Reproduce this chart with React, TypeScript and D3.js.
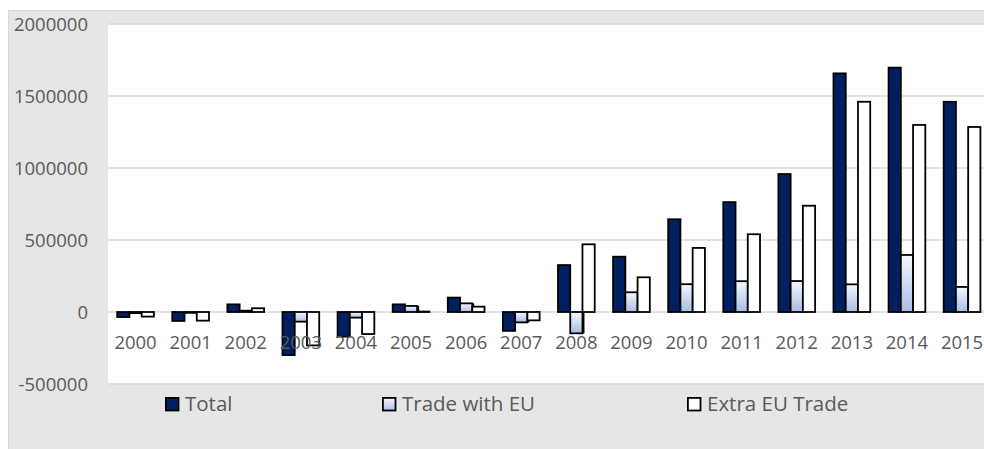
import React from "react";
import * as d3 from "d3";

const years = ["2000","2001","2002","2003","2004","2005","2006","2007","2008","2009","2010","2011","2012","2013","2014","2015"];
const totalValues = [-35000,-62000,53000,-299000,-171000,53000,100000,-131000,326000,384000,644000,763000,958000,1657000,1697000,1460000];
const euValues = [-8000,-6000,9000,-67000,-39000,42000,60000,-72000,-148000,137000,193000,214000,215000,192000,396000,174000];
const extraValues = [-32000,-60000,26000,-232000,-153000,3000,37000,-58000,470000,241000,445000,540000,738000,1460000,1299000,1285000];
const yTicks = [-500000,0,500000,1000000,1500000,2000000];
const seriesNames = ["Total","Trade with EU","Extra EU Trade"];

const W = 984, H = 449;
const plotLeft = 108, plotTop = 24, plotBottom = 384;
const band = 55.1;
const font = "'Open Sans', sans-serif";
const textColor = "#595959";

export default function App() {
  const x = d3.scaleBand<string>().domain(years).range([plotLeft, plotLeft + band * years.length]).padding(0);
  const y = d3.scaleLinear().domain([-500000, 2000000]).range([plotBottom, plotTop]);
  const bw = x.bandwidth() / 4.5;
  const inner = d3.scaleBand<number>().domain([0, 1, 2]).range([bw * 0.75, bw * 3.75]).padding(0);
  const series = [totalValues, euValues, extraValues];
  const fills = ["#022060", "url(#euGrad)", "#ffffff"];

  const legendX = [165, 382, 687];

  return (
    <svg width={W} height={H} style={{ position: "absolute", left: 0, top: 0 }}>
      <defs>
        <linearGradient id="euGrad" x1="0" y1="0" x2="0" y2="1">
          <stop offset="0" stopColor="#f6f8fd" />
          <stop offset="1" stopColor="#a6bde5" />
        </linearGradient>
        <clipPath id="clip">
          <rect x={0} y={0} width={W} height={H} />
        </clipPath>
      </defs>
      <rect x={8.5} y={10.5} width={W} height={H + 10} fill="#e6e6e6" stroke="#d9d9d9" />
      <rect x={plotLeft} y={plotTop} width={W - plotLeft + 10} height={plotBottom - plotTop} fill="#ffffff" />
      {yTicks.map((t) => (
        <line key={t} x1={plotLeft} x2={W + 5} y1={y(t)} y2={y(t)} stroke="#d9d9d9" strokeWidth={1.5} />
      ))}
      {yTicks.map((t) => (
        <text key={"l" + t} x={88} y={y(t)} dy="0.36em" textAnchor="end" fontFamily={font} fontSize={18.5} fill={textColor}>
          {t}
        </text>
      ))}
      <g clipPath="url(#clip)">
        {series.map((vals, si) =>
          vals.map((v, i) => {
            const bx = (x(years[i]) as number) + (inner(si) as number);
            const y0 = y(0), y1 = y(v);
            const top = Math.min(y0, y1), h = Math.abs(y1 - y0);
            return (
              <g key={si + "-" + i}>
                {si === 1 && <rect x={bx + 2} y={top} width={bw} height={h} fill="#000" />}
                <rect x={bx} y={top} width={bw} height={h} fill={fills[si]} stroke="#000" strokeWidth={1.8} />
              </g>
            );
          })
        )}
      </g>
      {years.map((yr) => (
        <text key={yr} x={(x(yr) as number) + x.bandwidth() / 2} y={342} dy="0.36em" textAnchor="middle" fontFamily={font} fontSize={18.5} fill={textColor}>
          {yr}
        </text>
      ))}
      {seriesNames.map((name, i) => (
        <g key={name}>
          <rect x={legendX[i] + 0.9} y={397.9} width={12.6} height={12.6} fill={fills[i]} stroke="#000" strokeWidth={1.8} />
          <text x={legendX[i] + 20} y={404} dy="0.36em" fontFamily={font} fontSize={20.5} fill={textColor}>
            {name}
          </text>
        </g>
      ))}
    </svg>
  );
}
